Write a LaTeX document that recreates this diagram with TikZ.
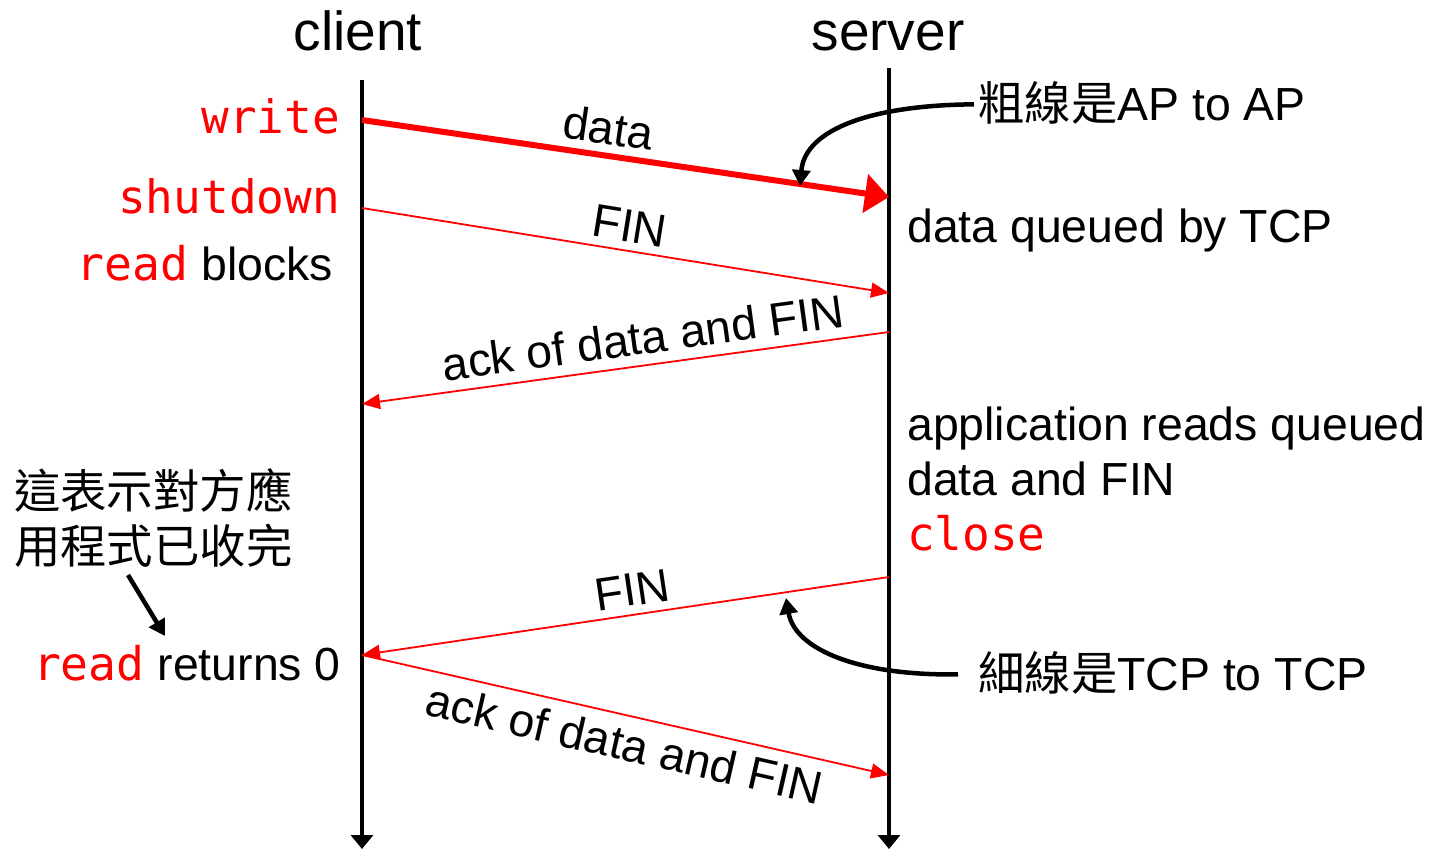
\documentclass[tikz,border=0pt]{standalone}
\usepackage{fontspec}
\setmainfont{Liberation Sans}
\setmonofont{DejaVu Sans Mono}
\newfontfamily\cjk{Noto Sans CJK TC}
\usetikzlibrary{arrows.meta}
\begin{document}
\begin{tikzpicture}[x=1pt,y=-1pt,
  body/.style={inner sep=0pt,font=\fontsize{46.4}{54}\selectfont},
  head/.style={inner sep=0pt,font=\fontsize{55}{62}\selectfont},
  call/.style={inner sep=0pt,font=\fontsize{46}{54}\selectfont\ttfamily,text=red},
  lifeline/.style={line width=3.5pt,-{Triangle[length=14pt,width=22pt]}},
  msg/.style={red,line width=1.8pt,-{Triangle[length=18pt,width=15pt]}},
  apmsg/.style={red,line width=6pt,-{Triangle[length=24pt,width=38pt]}},
  note/.style={line width=4.5pt,-{Triangle[length=16pt,width=18pt]}},
  lbl/.style={body,sloped,text=black}]
\useasboundingbox (0,0) rectangle (1433,849);

% lifelines
\coordinate (ctop) at (362,80);
\coordinate (cbot) at (362,849);
\coordinate (stop) at (889,68);
\coordinate (sbot) at (889,849);
\draw[lifeline] (ctop) -- (cbot);
\draw[lifeline] (stop) -- (sbot);
\node[head,anchor=base] (client) at (358,50) {client};
\node[head,anchor=base] (server) at (888,50) {server};

% message end points
\coordinate (c1) at (362,120);
\coordinate (s1) at (889,197);
\coordinate (c2) at (362,208);
\coordinate (s2) at (889,293);
\coordinate (s3) at (889,332);
\coordinate (c3) at (362,404);
\coordinate (s4) at (889,577);
\coordinate (c4) at (362,655);
\coordinate (s5) at (889,775);

\draw[apmsg] (c1) -- node[lbl,pos=0.46,above=8pt] (ldata) {data} (s1);
\draw[msg] (c2) -- node[lbl,pos=0.5,above=8pt] (lfin1) {FIN} (s2);
\draw[msg] (s3) -- node[lbl,pos=0.46,above=10pt] (lack1) {ack of data and FIN} (c3);
\draw[msg] (s4) -- node[lbl,pos=0.48,above=8pt] (lfin2) {FIN} (c4);
\draw[msg] (c4) -- node[lbl,pos=0.51,below=10pt] (lack2) {ack of data and FIN} (s5);

% client side texts
\node[call,anchor=base east] (write) at (340,133) {write};
\node[call,anchor=base east] (shut) at (340,213) {shutdown};
\node[body,anchor=base east] (rblk) at (333,280) {{\ttfamily\color{red}read} blocks};
\node[body,anchor=base west] (cj1) at (14,508) {\cjk 這表示對方應};
\node[body,anchor=base west] (cj2) at (14,563) {\cjk 用程式已收完};
\node[body,anchor=base east] (rret) at (341,680) {{\ttfamily\color{red}read} returns 0};

% server side texts
\node[body,anchor=base west] (queued) at (907,242) {data queued by TCP};
\node[body,anchor=base west] (app1) at (907,440) {application reads queued};
\node[body,anchor=base west] (app2) at (907,495) {data and FIN};
\node[call,anchor=base west] (close) at (907,550) {close};
\node[body,anchor=base west] (thick) at (978,120) {{\cjk 粗線是}AP to AP};
\node[body,anchor=base west] (thin) at (978,690) {{\cjk 細線是}TCP to TCP};

% pointer arrows
\coordinate (p1) at (800,186);
\coordinate (p2) at (786,598);
\coordinate (q1) at (128,575);
\coordinate (q2) at (165,636);
\draw[note] (thick.west) ++(-4,2) .. controls (875,105) and (805,128) .. (p1);
\draw[note] (thin.west) ++(-20,2) .. controls (860,676) and (795,650) .. (p2);
\draw[note] (q1) -- (q2);
\end{tikzpicture}
\end{document}
